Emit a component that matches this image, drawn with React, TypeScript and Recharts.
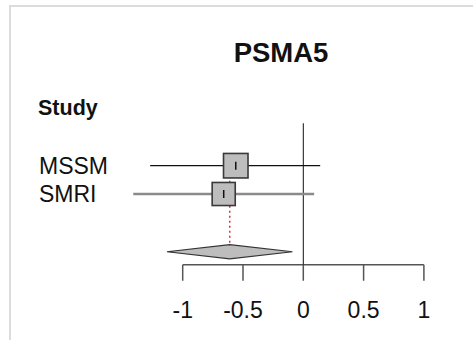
import { ComposedChart, XAxis, YAxis, Scatter, ReferenceLine } from "recharts";

// Etudes et estimations
const studies = ["MSSM", "SMRI"];
const estimates = [-0.56, -0.66];
const ciLower = [-1.27, -1.41];
const ciUpper = [0.14, 0.09];
const weights = [53, 47];

// Estimation combinée
const summaryEst = -0.61;
const summaryLower = -1.13;
const summaryUpper = -0.09;

const xTicks = [-1, -0.5, 0, 0.5, 1];

const FONT = "'Liberation Sans', Arial, Helvetica, sans-serif";
const SUMMARY_ROW = 4.04;
const DIAMOND_HALF = 0.25;

const studyRows = studies.map((name, i) => ({
  name,
  x: estimates[i],
  y: i + 1,
  lo: ciLower[i],
  hi: ciUpper[i],
  w: weights[i],
}));

const maxW = Math.max(...weights);

const diamond = [
  { x: summaryLower, y: SUMMARY_ROW },
  { x: summaryEst, y: SUMMARY_ROW - DIAMOND_HALF },
  { x: summaryUpper, y: SUMMARY_ROW },
  { x: summaryEst, y: SUMMARY_ROW + DIAMOND_HALF },
];

const SquareShape = (props: any) => {
  const { cx, cy, payload } = props;
  const s = 24.5 * Math.sqrt(payload.w / maxW);
  return (
    <g>
      <rect x={cx - s / 2} y={cy - s / 2} width={s} height={s} fill="#bdbdbd" stroke="#3a3a3a" strokeWidth={1.6} />
      <line x1={cx} x2={cx} y1={cy - 4} y2={cy + 4} stroke="#111" strokeWidth={1.5} />
    </g>
  );
};

const StudyTick = (props: any) => {
  const { y, payload } = props;
  return (
    <text x={39} y={y} dy="0.36em" fontSize={23} fill="#111" fontFamily={FONT} textAnchor="start">
      {studies[payload.value - 1]}
    </text>
  );
};

const DiamondLine = (p: any) => {
  const pts = (p.points || []).map((q: any) => `${q.x},${q.y}`).join(" ");
  return <polygon points={pts} fill="#bdbdbd" stroke="#333" strokeWidth={1.2} />;
};

const App = () => {
  return (
    <div style={{ position: "fixed", left: 0, top: 0, width: 473, height: 340, background: "#fff", fontFamily: FONT }}>
      <div
        style={{
          position: "absolute",
          left: 9,
          top: 5,
          width: 470,
          height: 340,
          borderTop: "2px solid #dcdcdc",
          borderLeft: "2px solid #dcdcdc",
        }}
      />
      <ComposedChart
        width={473}
        height={340}
        margin={{ top: 123.25, right: 18.95, bottom: 15.25, left: 42.4 }}
        style={{ position: "absolute", left: 0, top: 0 }}
      >
        <text x={281} y={62} textAnchor="middle" fontSize={27.5} fontWeight="bold" fill="#111" fontFamily={FONT}>
          PSMA5
        </text>
        <text x={38} y={115} fontSize={21.5} fontWeight="bold" fill="#111" fontFamily={FONT}>
          Study
        </text>
        <XAxis
          type="number"
          dataKey="x"
          domain={[-1.5, 1.25]}
          allowDataOverflow
          ticks={xTicks}
          tickFormatter={(v: number) => String(v)}
          axisLine={false}
          tickSize={16}
          tickMargin={21}
          height={60}
          tickLine={{ stroke: "#555", strokeWidth: 1.5 }}
          tick={{ fontSize: 23, fill: "#111", fontFamily: FONT }}
          interval={0}
        />
        <YAxis
          type="number"
          dataKey="y"
          domain={[-0.5, 4.5]}
          reversed
          allowDataOverflow
          ticks={[1, 2]}
          axisLine={false}
          tickLine={false}
          width={80}
          tick={<StudyTick />}
          interval={0}
        />
        <ReferenceLine
          segment={[{ x: -1, y: 4.5 }, { x: 1, y: 4.5 }]}
          stroke="#555"
          strokeWidth={1.5}
          ifOverflow="visible"
        />
        <ReferenceLine x={0} stroke="#111" strokeWidth={1} ifOverflow="visible" />
        <ReferenceLine
          segment={[{ x: summaryEst, y: 1 }, { x: summaryEst, y: SUMMARY_ROW - DIAMOND_HALF }]}
          stroke="#d9303c"
          strokeWidth={1.5}
          strokeDasharray="2 3"
          ifOverflow="visible"
        />
        {studyRows.map((r, i) => (
          <ReferenceLine
            key={r.name}
            segment={[{ x: r.lo, y: r.y }, { x: r.hi, y: r.y }]}
            stroke={i === 0 ? "#111" : "#8a8a8a"}
            strokeWidth={i === 0 ? 1.2 : 2.5}
            ifOverflow="visible"
          />
        ))}
        <Scatter data={studyRows} dataKey="y" shape={<SquareShape />} isAnimationActive={false} />
        <Scatter
          data={diamond}
          dataKey="y"
          line={DiamondLine}
          lineType="joint"
          shape={() => <g />}
          isAnimationActive={false}
        />
      </ComposedChart>
    </div>
  );
};

export default App;
